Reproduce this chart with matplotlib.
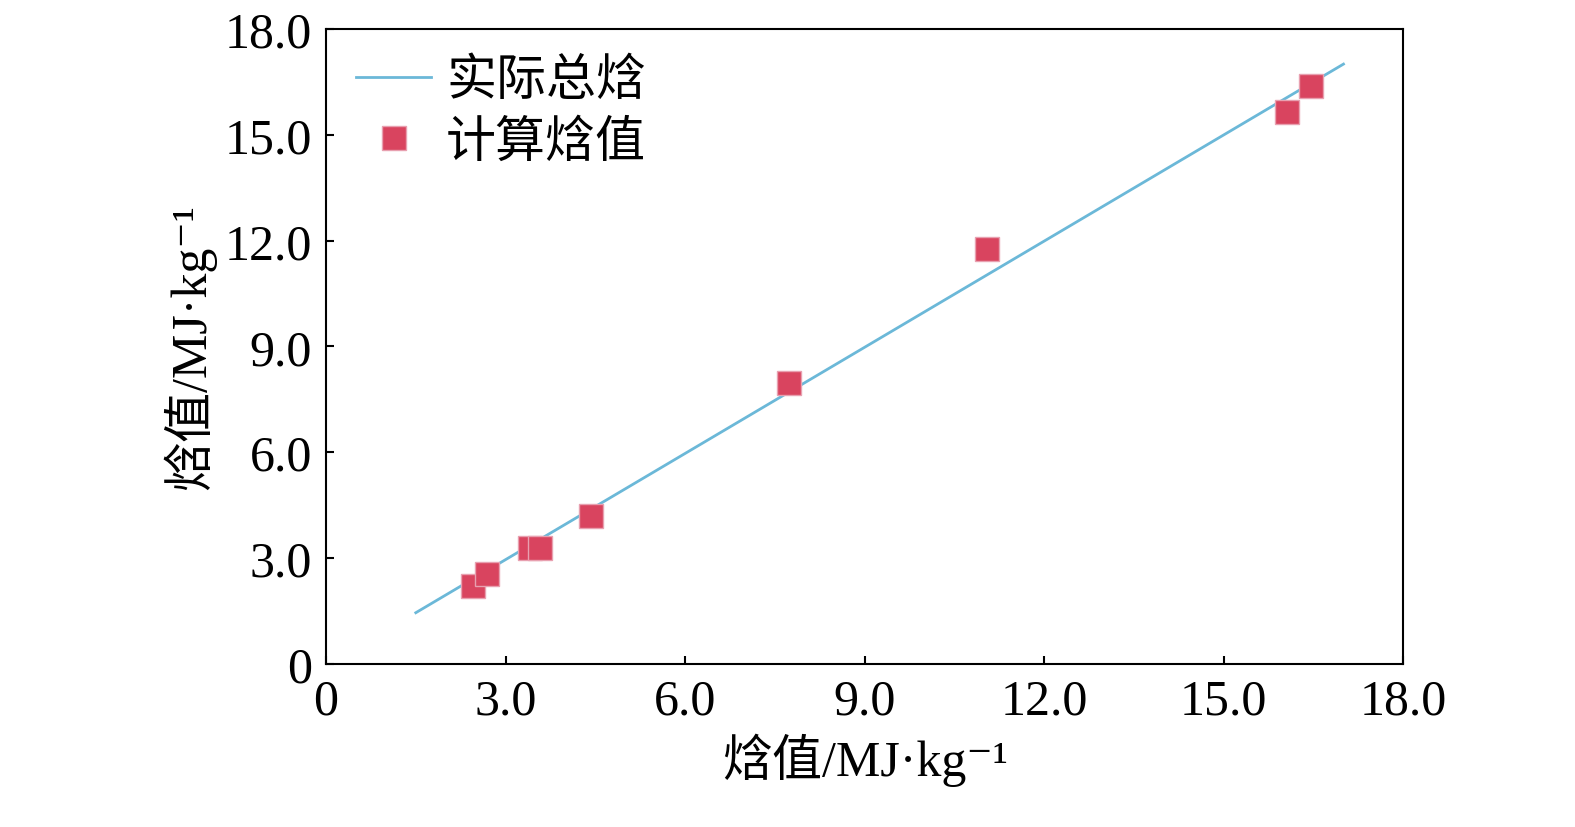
import matplotlib.pyplot as plt

line_x = [1.5, 17.0]
line_y = [1.45, 17.0]
calc_x = [2.45, 2.69, 3.40, 3.57, 4.42, 7.73, 11.05, 16.06, 16.46]
calc_y = [2.20, 2.55, 3.29, 3.29, 4.19, 7.96, 11.76, 15.64, 16.37]
ticks = [0, 3, 6, 9, 12, 15, 18]
tick_labels = ['0', '3.0', '6.0', '9.0', '12.0', '15.0', '18.0']

plt.rcParams['font.family'] = ['Liberation Serif', 'Noto Sans CJK SC', 'DejaVu Sans']
plt.rcParams['font.size'] = 36

fig = plt.figure(figsize=(15.75, 8.28), dpi=100)
ax = fig.add_axes([0.207, 0.197, 0.684, 0.767])
ax.plot(line_x, line_y, color='#6bb8d8', lw=2, label='实际总焓')
ax.plot(calc_x, calc_y, 's', color='#d9445f', ms=17, mec='#e8a0b0', mew=1, ls='none', label='计算焓值')
ax.set_xlim(0, 18)
ax.set_ylim(0, 18)
ax.set_xticks(ticks)
ax.set_xticklabels(tick_labels)
ax.set_yticks(ticks)
ax.set_yticklabels(tick_labels)
ax.tick_params(direction='in', length=6, width=1.5, pad=10)
for s in ax.spines.values():
    s.set_linewidth(1.5)
ax.set_xlabel('焓值/MJ·kg⁻¹', labelpad=6)
ax.set_ylabel('焓值/MJ·kg⁻¹', labelpad=6)
ax.legend(loc='upper left', frameon=False, handlelength=1.5, handletextpad=0.3,
          borderaxespad=0.2, labelspacing=0.3)
fig.savefig('out.png')
